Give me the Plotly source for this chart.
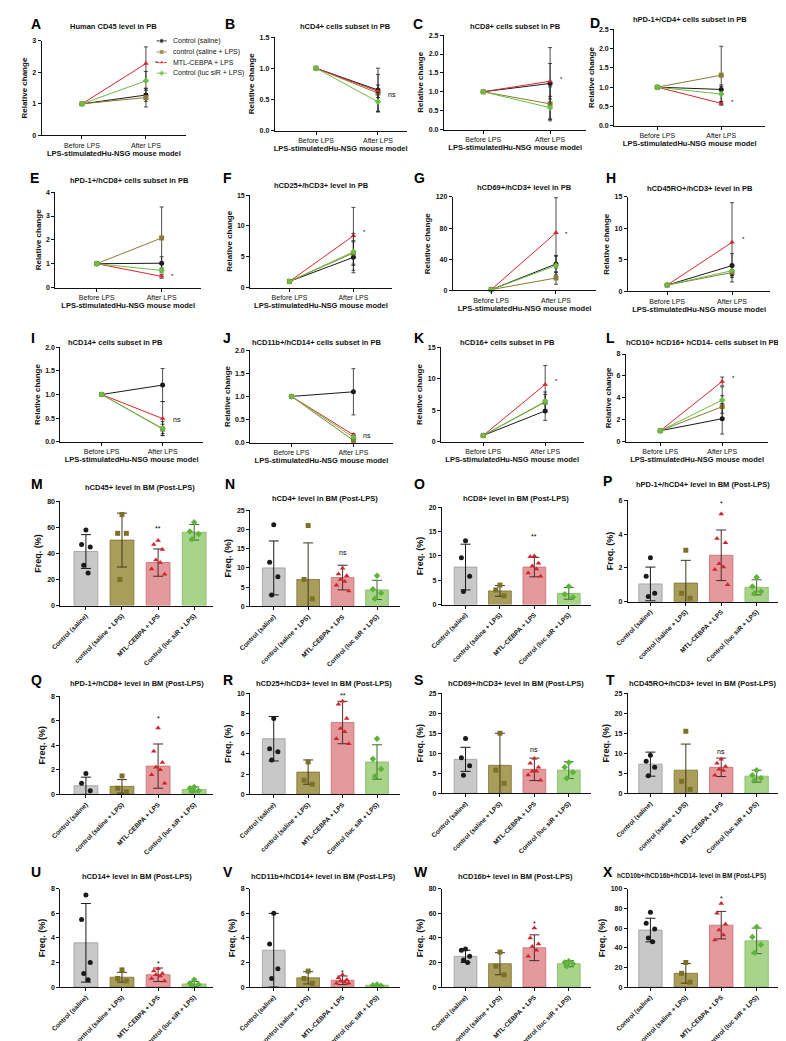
import plotly.graph_objects as go

W, H = 786, 1041
FONT = "Liberation Sans, Arial, sans-serif"

# ---------------- data ----------------
SERIES = ["Control (saline)", "control (saline + LPS)", "MTL-CEBPA + LPS", "Control (luc siR + LPS)"]
TIMEPOINTS = ["Before LPS", "After LPS"]
BEFORE = [1.0, 1.0, 1.0, 1.0]

# After-LPS relative change (black, olive, red, green) and SD
A_after = [1.28, 1.20, 2.28, 1.73]; A_sd = [0.20, 0.30, 0.53, 0.30]
B_after = [0.65, 0.60, 0.63, 0.46]; B_sd = [0.35, 0.30, 0.10, 0.15]
C_after = [1.22, 0.68, 1.28, 0.58]; C_sd = [0.95, 0.45, 0.47, 0.30]
D_after = [0.94, 1.31, 0.58, 0.82]; D_sd = [0.12, 0.75, 0.05, 0.20]
E_after = [1.02, 2.08, 0.47, 0.72]; E_sd = [0.27, 1.30, 0.08, 0.10]
F_after = [4.9, 5.6, 8.4, 5.8];     F_sd = [2.5, 2.0, 4.6, 3.0]
G_after = [34, 16, 74, 32];         G_sd = [11, 8, 45, 12]
H_after = [4.1, 3.0, 7.8, 3.3];     H_sd = [1.9, 0.5, 6.3, 0.8]
I_after = [1.20, 0.27, 0.49, 0.28]; I_sd = [0.35, 0.10, 0.36, 0.15]
J_after = [1.10, 0.05, 0.17, 0.12]; J_sd = [0.50, 0.03, 0.03, 0.04]
K_after = [4.9, 6.3, 9.1, 6.4];     K_sd = [1.5, 1.2, 3.0, 1.5]
L_after = [2.1, 3.2, 5.5, 3.8];     L_sd = [1.4, 1.0, 0.4, 1.2]

LINE_TITLES = ["Human CD45 level in PB", "hCD4+ cells subset in PB", "hCD8+ cells subset in PB",
               "hPD-1+/CD4+ cells subset in PB", "hPD-1+/hCD8+ cells subset in PB",
               "hCD25+/hCD3+ level in PB", "hCD69+/hCD3+ level in PB", "hCD45RO+/hCD3+ level in PB",
               "hCD14+ cells subset in PB", "hCD11b+/hCD14+ cells subset in PB",
               "hCD16+ cells subset in PB", "hCD10+ hCD16+ hCD14- cells subset in PB"]
LINE_SIG = ["*", "ns", "*", "*", "*", "*", "*", "*", "ns", "ns", "*", "*"]
LINE_SIG_Y = [2.25, 0.58, 1.28, 0.55, 0.42, 8.7, 70, 8.0, 0.47, 0.15, 9.3, 5.6]

# Bar panels: means, SDs, individual points (grey, olive, red, green), in %
M_mean = [41.5, 50.3, 33.0, 56.3]; M_sd = [13.0, 20.7, 10.5, 6.0]
M_pts = [[58, 47, 45, 31, 25], [70, 55.5, 55.5, 20], [50, 47, 43, 35, 33, 28, 24], [64, 57, 55, 51]]
N_mean = [10.0, 7.0, 7.5, 4.3]; N_sd = [7.0, 9.5, 3.2, 2.5]
N_pts = [[21.2, 11.5, 7.7, 3.0], [21.0, 7.0, 2.0], [9.9, 8.4, 8.0, 7.0, 6.5, 5.5, 4.0], [8.0, 4.5, 3.5, 2.0]]
O_mean = [7.7, 2.8, 7.7, 2.3]; O_sd = [4.7, 1.1, 2.0, 1.2]
O_pts = [[13.1, 9.6, 5.8, 2.7], [4.0, 3.0, 1.8], [10.0, 9.8, 8.5, 7.9, 7.3, 6.5, 5.8], [3.7, 2.1, 1.5]]
P_mean = [1.05, 1.1, 2.75, 0.85]; P_sd = [1.0, 1.35, 1.5, 0.45]
P_pts = [[2.6, 1.5, 0.5, 0.3], [3.05, 0.5, 0.2], [5.2, 3.75, 3.5, 2.25, 2.05, 1.9, 1.0], [1.45, 0.9, 0.6, 0.5]]
Q_mean = [0.7, 0.65, 2.3, 0.4]; Q_sd = [0.7, 0.55, 1.8, 0.2]
Q_pts = [[1.7, 0.9, 0.3], [1.5, 0.5, 0.2], [5.4, 3.5, 2.6, 2.2, 2.0, 1.6, 0.9], [0.6, 0.5, 0.3, 0.2]]
R_mean = [5.5, 2.2, 7.1, 3.2]; R_sd = [2.2, 1.2, 2.1, 1.7]
R_pts = [[7.5, 4.5, 4.2, 3.4], [3.2, 1.4, 1.0], [9.2, 8.9, 7.5, 6.5, 6.2, 5.5, 5.0], [5.5, 3.5, 2.5, 1.8]]
S_mean = [8.5, 7.0, 6.0, 5.8]; S_sd = [3.0, 8.0, 2.8, 2.1]
S_pts = [[13.7, 8.9, 6.9, 4.5], [15.0, 5.8, 2.5], [8.7, 7.5, 6.5, 5.5, 5.5, 4.6, 3.3], [7.7, 6.5, 5.3, 3.8]]
T_mean = [7.3, 5.8, 6.5, 4.3]; T_sd = [3.0, 6.5, 2.3, 1.5]
T_pts = [[9.5, 8.0, 6.5, 4.4], [15.5, 3.0, 1.0], [8.5, 7.5, 6.7, 6.0, 5.7, 4.5], [5.8, 4.5, 3.8, 3.2]]
U_mean = [3.6, 0.8, 1.0, 0.25]; U_sd = [3.2, 0.4, 0.55, 0.2]
U_pts = [[7.5, 5.5, 2.0, 1.1, 0.6], [1.4, 0.7, 0.5], [1.5, 1.3, 1.1, 1.0, 0.9, 0.7, 0.5], [0.6, 0.3, 0.2, 0.1]]
V_mean = [3.0, 0.75, 0.55, 0.15]; V_sd = [3.0, 0.5, 0.35, 0.05]
V_pts = [[6.0, 3.5, 1.5, 0.7], [1.3, 0.7, 0.3], [1.0, 0.75, 0.6, 0.5, 0.4, 0.3, 0.3], [0.2, 0.15, 0.1]]
W_mean = [25.0, 19.0, 32.0, 19.0]; W_sd = [5.0, 9.0, 10.5, 2.5]
W_pts = [[31, 30, 25, 22, 20], [28.5, 17, 10], [48, 40, 35, 33, 30, 25], [21, 20, 19, 17]]
X_mean = [58.0, 14.0, 63.0, 47.0]; X_sd = [12.0, 10.0, 14.0, 13.0]
X_pts = [[76, 65, 59, 50, 46], [25, 14, 5], [85, 75, 64, 58, 53, 48], [61, 51, 43, 35]]

BAR_TITLES = ["hCD45+ level in BM (Post-LPS)", "hCD4+ level in BM (Post-LPS)", "hCD8+ level in BM (Post-LPS)",
              "hPD-1+/hCD4+ level in BM (Post-LPS)", "hPD-1+/hCD8+ level in BM (Post-LPS)",
              "hCD25+/hCD3+ level in BM (Post-LPS)", "hCD69+/hCD3+ level in BM (Post-LPS)",
              "hCD45RO+/hCD3+ level in BM (Post-LPS)", "hCD14+ level in BM (Post-LPS)",
              "hCD11b+/hCD14+ level in BM (Post-LPS)", "hCD16b+ level in BM (Post-LPS)",
              "hCD10b+/hCD16b+/hCD14- level in BM (Post-LPS)"]
BAR_SIG = ["**", "ns", "**", "*", "*", "**", "ns", "ns", "*", "*", "*", "*"]
BAR_SIG_Y = [59, 14, 14, 5.8, 6.2, 9.8, 11, 10.5, 1.9, 1.2, 52, 90]
BAR_CATS = ["Control (saline)", "control (saline + LPS)", "MTL-CEBPA + LPS", "Control (luc siR + LPS)"]

# ---------------- style ----------------
LINE_COLORS = ["#1a1a1a", "#8a7c30", "#d8262c", "#6cbd45"]
LINE_SYMBOLS = ["circle", "square", "triangle-up", "diamond"]
BAR_FILL = ["#c8c8c8", "#a99d5c", "#e49a9c", "#a8d48a"]
BAR_EDGE = ["#9a9a9a", "#7d7230", "#c96a6d", "#7fb85f"]
PT_COLORS = ["#1a1a1a", "#7d7128", "#d0252b", "#5db33a"]
ERR_COLORS = ["#1a1a1a", "#3f3a18", "#4a2a2a", "#3d6b2a"]

# pixel boxes: x0, x1, Before px, After px, ytop, ybot, ymax, dtick, fmt
LINE_BOX = [
    (21, 168, 62, 127, 30, 128, 3, 1, "d"),
    (258, 392, 300, 363, 26, 123, 1.5, 0.5, ".1f"),
    (430, 575, 470, 538, 24, 122, 2.5, 0.5, ".1f"),
    (603, 757, 647, 712, 18, 118, 2.5, 0.5, ".1f"),
    (35, 183, 77, 143, 187, 286, 4, 1, "d"),
    (233, 377, 273, 338, 190, 286, 15, 5, "d"),
    (439, 585, 478, 544, 192, 289, 120, 40, "d"),
    (617, 762, 657, 723, 192, 290, 15, 5, "d"),
    (40, 185, 82, 144, 348, 446, 2.0, 0.5, ".1f"),
    (233, 378, 275, 338, 351, 447, 2.0, 0.5, ".1f"),
    (427, 572, 470, 533, 348, 446, 15, 5, "d"),
    (615, 760, 650, 713, 355, 446, 8, 2, "d"),
]
LINE_TITLE_POS = [(94, 15), (330, 15), (503, 15), (680, 8), (110, 175), (306, 180), (512, 182), (690, 183),
                  (96, 343), (300, 343), (495, 343), (693, 343)]
# x0, x1, first bar centre, unit px, ytop, ybot, ymax, dtick
BAR_BOX = [
    (40, 195, 66, 36.7, 508, 616, 80, 20),
    (233, 385, 257, 35, 517, 617, 25, 5),
    (428, 580, 452, 35, 514, 615, 20, 5),
    (617, 770, 640, 36, 507, 612, 6, 2),
    (40, 195, 66, 36.7, 710, 812, 8, 2),
    (233, 385, 257, 35, 707, 812, 10, 2),
    (428, 580, 452, 35, 707, 811, 25, 5),
    (617, 770, 640, 36, 707, 811, 25, 5),
    (40, 195, 66, 36.7, 910, 1012, 8, 2),
    (233, 385, 257, 35, 910, 1012, 8, 2),
    (428, 580, 452, 35, 910, 1012, 80, 20),
    (617, 770, 640, 36, 910, 1012, 100, 20),
]
# (x, y, anchor)
BAR_TITLE_POS = [(121, 493, "center"), (309, 505, "center"), (503, 505, "center"), (693, 490, "center"),
                 (118, 697, "center"), (308, 697, "center"), (503, 697, "center"), (693, 697, "center"),
                 (118, 897, "center"), (308, 897, "center"), (503, 897, "center"), (604, 897, "left")]
BAR_TITLE_SIZE = [7.5] * 11 + [6.3]
LETTERS = list("ABCDEFGHIJKLMNOPQRSTUVWX")
LETTER_POS = [(8, 12), (205, 12), (397, 12), (577, 11), (7, 172), (203, 172), (398, 172), (593, 172),
              (8, 338), (203, 338), (398, 338), (593, 338), (8, 490), (205, 490), (398, 490), (590, 487),
              (8, 693), (203, 693), (398, 693), (593, 693), (8, 893), (203, 893), (398, 893), (590, 893)]
# legend for panel A (pixel positions)
LEGEND_X = (138, 148, 153)
LEGEND_ROWS = [30, 41.5, 52.5, 63.5]

line_after = [A_after, B_after, C_after, D_after, E_after, F_after, G_after, H_after, I_after, J_after, K_after, L_after]
line_sd = [A_sd, B_sd, C_sd, D_sd, E_sd, F_sd, G_sd, H_sd, I_sd, J_sd, K_sd, L_sd]
bar_mean = [M_mean, N_mean, O_mean, P_mean, Q_mean, R_mean, S_mean, T_mean, U_mean, V_mean, W_mean, X_mean]
bar_sd = [M_sd, N_sd, O_sd, P_sd, Q_sd, R_sd, S_sd, T_sd, U_sd, V_sd, W_sd, X_sd]
bar_pts = [M_pts, N_pts, O_pts, P_pts, Q_pts, R_pts, S_pts, T_pts, U_pts, V_pts, W_pts, X_pts]


def px(x):
    return x / W


def py(y):
    return 1 - y / H


def jitter(n):
    pattern = [0.0, -0.12, 0.12, -0.06, 0.06, -0.18, 0.18, -0.03]
    return [pattern[i % len(pattern)] for i in range(n)]


fig = go.Figure()
layout = {}
annotations = []
BLACK = "#111111"

axis_common = dict(showline=True, linecolor=BLACK, linewidth=1, ticks="outside", ticklen=3,
                   tickwidth=1, tickcolor=BLACK, showgrid=False, zeroline=False,
                   tickfont=dict(family=FONT, size=7, color=BLACK, weight="bold"))

k = 0
for p in range(12):
    k += 1
    xa = "x" if k == 1 else f"x{k}"
    ya = "y" if k == 1 else f"y{k}"
    x0, x1, bx, ax_, ytop, ybot, ymax, dt, fmt = LINE_BOX[p]
    unit = ax_ - bx
    xr = [(x0 - bx) / unit, (x1 - bx) / unit]
    ticks = []
    v = 0.0
    while v <= ymax + 1e-9:
        ticks.append(round(v, 4))
        v += dt
    layout["xaxis" if k == 1 else f"xaxis{k}"] = dict(
        axis_common, domain=[px(x0), px(x1)], anchor=ya, range=xr,
        tickvals=[0, 1], ticktext=TIMEPOINTS,
        tickfont=dict(family=FONT, size=7, color=BLACK),
        title=dict(text="LPS-stimulatedHu-NSG mouse model", standoff=2,
                   font=dict(family=FONT, size=7.5, color=BLACK, weight="bold")))
    layout["yaxis" if k == 1 else f"yaxis{k}"] = dict(
        axis_common, domain=[py(ybot), py(ytop)], anchor=xa, range=[0, ymax],
        tickvals=ticks, tickformat=fmt,
        title=dict(text="Relative change", standoff=3,
                   font=dict(family=FONT, size=8, color=BLACK, weight="bold")))
    for s in range(4):
        yv = [BEFORE[s], line_after[p][s]]
        fig.add_trace(go.Scatter(
            x=[0, 1], y=yv, xaxis=xa, yaxis=ya, mode="lines+markers",
            name=SERIES[s], showlegend=False, cliponaxis=False,
            line=dict(color=LINE_COLORS[s], width=1),
            marker=dict(symbol=LINE_SYMBOLS[s], size=5, color=LINE_COLORS[s]),
            error_y=dict(type="data", array=[0, line_sd[p][s]], color="#222", thickness=0.8, width=2)))
    annotations.append(dict(x=1, y=LINE_SIG_Y[p], xref=xa, yref=ya, text=LINE_SIG[p], showarrow=False,
                            xshift=14 if LINE_SIG[p] == "ns" else 11, yshift=2 if LINE_SIG[p] != "ns" else 0,
                            font=dict(family=FONT, size=7 if LINE_SIG[p] == "ns" else 6, color="black")))
    tx, ty = LINE_TITLE_POS[p]
    annotations.append(dict(x=px(tx), y=py(ty), xref="paper", yref="paper", text=LINE_TITLES[p],
                            showarrow=False, xanchor="center", yanchor="middle",
                            font=dict(family=FONT, size=7.5, color=BLACK, weight="bold")))

for p in range(12):
    k += 1
    xa, ya = f"x{k}", f"y{k}"
    x0, x1, c0, unit, ytop, ybot, ymax, dt = BAR_BOX[p]
    xr = [(x0 - c0) / unit, (x1 - c0) / unit]
    ticks = list(range(0, int(ymax) + 1, int(dt)))
    layout[f"xaxis{k}"] = dict(
        axis_common, domain=[px(x0), px(x1)], anchor=ya, range=xr,
        tickvals=[0, 1, 2, 3], ticktext=BAR_CATS, tickangle=-45,
        tickfont=dict(family=FONT, size=6.5, color=BLACK, weight="bold"))
    layout[f"yaxis{k}"] = dict(
        axis_common, domain=[py(ybot), py(ytop)], anchor=xa, range=[0, ymax],
        tickvals=ticks, ticksuffix="%",
        title=dict(text="Freq. (%)", standoff=3,
                   font=dict(family=FONT, size=9, color=BLACK, weight="bold")))
    for g in range(4):
        fig.add_trace(go.Bar(
            x=[g], y=[bar_mean[p][g]], xaxis=xa, yaxis=ya, width=0.66, showlegend=False,
            marker=dict(color=BAR_FILL[g], line=dict(color=BAR_EDGE[g], width=0.8)),
            error_y=dict(type="data", array=[bar_sd[p][g]], color=ERR_COLORS[g], thickness=1, width=5)))
        pts = bar_pts[p][g]
        offs = jitter(len(pts))
        fig.add_trace(go.Scatter(
            x=[g + o for o in offs], y=pts, xaxis=xa, yaxis=ya, mode="markers", showlegend=False,
            cliponaxis=False,
            marker=dict(symbol=LINE_SYMBOLS[g], size=5, color=PT_COLORS[g])))
    annotations.append(dict(x=2, y=BAR_SIG_Y[p], xref=xa, yref=ya, text=BAR_SIG[p], showarrow=False,
                            font=dict(family=FONT, size=7, color="black")))
    tx, ty, anc = BAR_TITLE_POS[p]
    annotations.append(dict(x=px(tx), y=py(ty), xref="paper", yref="paper", text=BAR_TITLES[p],
                            showarrow=False, xanchor=anc, yanchor="middle",
                            font=dict(family=FONT, size=BAR_TITLE_SIZE[p], color=BLACK, weight="bold")))

# ---- hand-drawn legend for panel A (pixel-space helper axis) ----
k += 1
lxa, lya = f"x{k}", f"y{k}"
layout[f"xaxis{k}"] = dict(domain=[0, 1], range=[0, W], visible=False, fixedrange=True, anchor=lya)
layout[f"yaxis{k}"] = dict(domain=[0, 1], range=[H, 0], visible=False, fixedrange=True, anchor=lxa)
for s in range(4):
    ry = LEGEND_ROWS[s]
    fig.add_trace(go.Scatter(
        x=[LEGEND_X[0], (LEGEND_X[0] + LEGEND_X[1]) / 2, LEGEND_X[1]], y=[ry, ry, ry],
        xaxis=lxa, yaxis=lya, mode="lines+markers", showlegend=False, hoverinfo="skip",
        line=dict(color=LINE_COLORS[s], width=1),
        marker=dict(symbol=LINE_SYMBOLS[s], size=[0, 5, 0], color=LINE_COLORS[s])))
    annotations.append(dict(x=LEGEND_X[2], y=ry, xref=lxa, yref=lya, text=SERIES[s], showarrow=False,
                            xanchor="left", yanchor="middle",
                            font=dict(family=FONT, size=7, color=BLACK)))

for L, (lx, ly) in zip(LETTERS, LETTER_POS):
    annotations.append(dict(x=px(lx), y=py(ly), xref="paper", yref="paper", text=L, showarrow=False,
                            xanchor="left", yanchor="middle",
                            font=dict(family=FONT, size=14, color="#000", weight="bold")))

fig.update_layout(
    width=W, height=H, autosize=False, margin=dict(l=0, r=0, t=0, b=0),
    paper_bgcolor="white", plot_bgcolor="rgba(0,0,0,0)", barmode="overlay",
    showlegend=False,
    annotations=annotations,
    **layout)

fig.write_html("out.html")
